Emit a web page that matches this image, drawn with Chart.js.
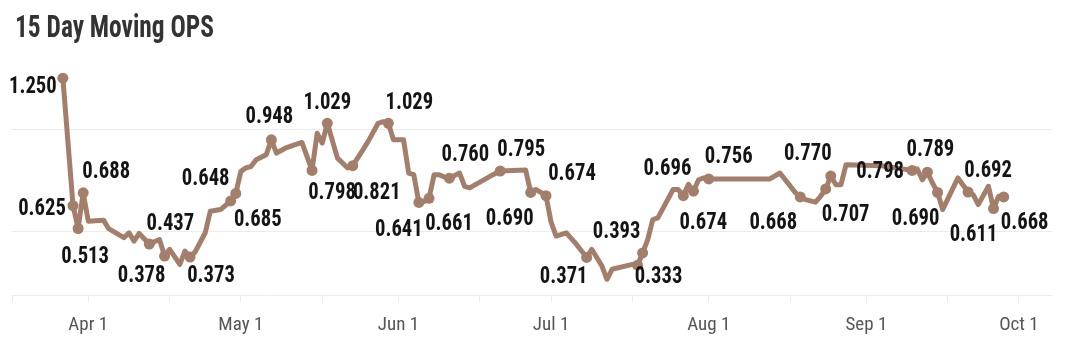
<!DOCTYPE html>
<html><head><meta charset="utf-8">
<script src="https://cdn.jsdelivr.net/npm/chart.js@4.4.1/dist/chart.umd.min.js"></script>
<style>html,body{margin:0;padding:0;background:#fff}#wrap{width:1066px;height:356px;position:relative}</style>
</head><body><div id="wrap"><canvas id="c" width="1066" height="356"></canvas></div>
<script>
const TITLE = '15 Day Moving OPS';
// day number counted from Mar 1 (Mar 1 = 0, Apr 1 = 31, ...)
const days = [26,28,29,30,31,34,35,38,39,40,41,43,45,46,47,49,50,51,52,54,55,57,59,60,61,62,63,64,66,67,68,70,73,75,76,77,78,80,82,83,85,86,88,89,90,91,93,94,95,96,97,98,99,100,101,102,104,105,106,110,112,117,118,119,120,121,122,123,125,127,129,130,132,133,134,138,139,140,141,142,143,146,147,148,149,150,151,152,153,165,167,170,171,172,174,175,176,177,178,179,180,187,193,194,195,196,197,198,199,202,204,205,206,208,209,210,211];
const ops = [1.250,0.625,0.513,0.688,0.549,0.554,0.512,0.468,0.492,0.451,0.489,0.437,0.459,0.378,0.411,0.337,0.402,0.373,0.398,0.492,0.598,0.606,0.648,0.685,0.793,0.810,0.817,0.850,0.875,0.948,0.883,0.910,0.935,0.798,0.980,0.932,1.029,0.858,0.810,0.821,0.899,0.939,1.029,1.037,1.029,0.948,0.948,0.785,0.777,0.641,0.645,0.661,0.777,0.777,0.765,0.760,0.785,0.720,0.712,0.769,0.795,0.800,0.690,0.704,0.690,0.674,0.544,0.476,0.492,0.435,0.371,0.411,0.329,0.264,0.313,0.337,0.333,0.393,0.459,0.557,0.565,0.704,0.704,0.674,0.730,0.696,0.752,0.761,0.756,0.756,0.785,0.690,0.668,0.655,0.642,0.671,0.707,0.770,0.728,0.728,0.826,0.821,0.798,0.805,0.752,0.789,0.736,0.690,0.606,0.761,0.692,0.679,0.630,0.720,0.611,0.671,0.668];
// days whose value is written on the chart
const labeledDays = [26,28,29,30,43,46,51,59,60,67,75,78,83,90,96,98,102,112,118,121,129,139,140,148,150,153,171,176,177,193,196,198,204,209,211];
const monthTickDays = [31,61,92,122,153,184,214];
const monthTickLabels = ['Apr 1','May 1','Jun 1','Jul 1','Aug 1','Sep 1','Oct 1'];
const minorTickDays = [16,47,77,108,138,169,200];
const gridValues = [0.5,1.0];

// label placement (style): offset of each value label from its point, in order of labeledDays
const LABEL_OFFSETS = [[-30,8],[-31,2],[7,27],[23,-22],[21,-21],[-23,19],[21,18],[-25,-23],[22,26],[-2,-24],[20,22],[0,-21],[24,26],[21,-21],[-20,27],[20,25],[16,-24],[21,-22],[-21,26],[26,-23],[-23,19],[21,11],[-26,-22],[20,26],[-26,-23],[20,-23],[-27,25],[20,25],[-23,-23],[-32,1],[3,-23],[-22,26],[20,-22],[-20,25],[21,25]];

const LINE = '#a37f6b';
const FONT = '"Roboto Condensed", "DejaVu Sans Condensed", sans-serif';

const allTicks = monthTickDays.concat(minorTickDays).sort((a,b)=>a-b);

const valueLabels = {
  id:'valueLabels',
  afterDatasetsDraw(chart){
    const ctx = chart.ctx, meta = chart.getDatasetMeta(0);
    const sx = 0.86;
    ctx.save();
    ctx.font = '700 24px ' + FONT;
    ctx.fillStyle = '#141414';
    ctx.textAlign = 'center';
    ctx.textBaseline = 'middle';
    labeledDays.forEach((d,k)=>{
      const i = days.indexOf(d);
      const el = meta.data[i];
      const off = LABEL_OFFSETS[k] || [0,-20];
      ctx.save();
      ctx.translate(el.x+off[0], el.y+off[1]+1);
      ctx.scale(sx,1);
      ctx.fillText(ops[i].toFixed(3), 0, 0);
      ctx.restore();
    });
    ctx.restore();
  }
};
const titlePlugin = {
  id:'titleText',
  afterDraw(chart){
    const ctx = chart.ctx;
    ctx.save();
    ctx.font = '700 32px ' + FONT;
    ctx.fillStyle = '#333333';
    ctx.textAlign = 'left';
    ctx.textBaseline = 'alphabetic';
    ctx.translate(15, 37);
    const w = ctx.measureText(TITLE).width;
    ctx.scale(199 / w, 1);
    ctx.fillText(TITLE, 0, 0);
    ctx.restore();
  }
};

new Chart(document.getElementById('c'), {
  type:'line',
  data:{datasets:[{
    data: days.map((d,i)=>({x:d,y:ops[i]})),
    borderColor: LINE,
    backgroundColor: LINE,
    borderWidth: 5,
    borderJoinStyle:'round',
    borderCapStyle:'round',
    tension:0,
    fill:false,
    clip:false,
    pointRadius: c => labeledDays.includes(days[c.dataIndex]) ? 5.5 : 0,
    pointHoverRadius: 0,
    pointBorderWidth: 0,
    pointBackgroundColor: LINE
  }]},
  options:{
    responsive:false,
    animation:false,
    devicePixelRatio:1,
    layout:{padding:{top:68,left:8,right:14,bottom:7}},
    plugins:{legend:{display:false},title:{display:false},tooltip:{enabled:false}},
    scales:{
      x:{
        type:'linear', min:15.9, max:220.5,
        afterBuildTicks: s => { s.ticks = allTicks.map(v=>({value:v})); },
        ticks:{
          autoSkip:false, maxRotation:0, padding:12,
          color:'#555555',
          font:{family:FONT, size:19},
          callback: v => { const j = monthTickDays.indexOf(v); return j>=0 ? monthTickLabels[j] : ''; }
        },
        grid:{drawOnChartArea:false, drawTicks:true, tickLength:7, color:'#ececec', lineWidth:1},
        border:{display:true, color:'#ececec', width:1}
      },
      y:{
        min:0.186, max:1.3,
        afterBuildTicks: s => { s.ticks = gridValues.map(v=>({value:v})); },
        ticks:{display:false},
        grid:{drawTicks:false, color:'#ececec', lineWidth:1},
        border:{display:false}
      }
    }
  },
  plugins:[valueLabels, titlePlugin]
});
</script></body></html>
